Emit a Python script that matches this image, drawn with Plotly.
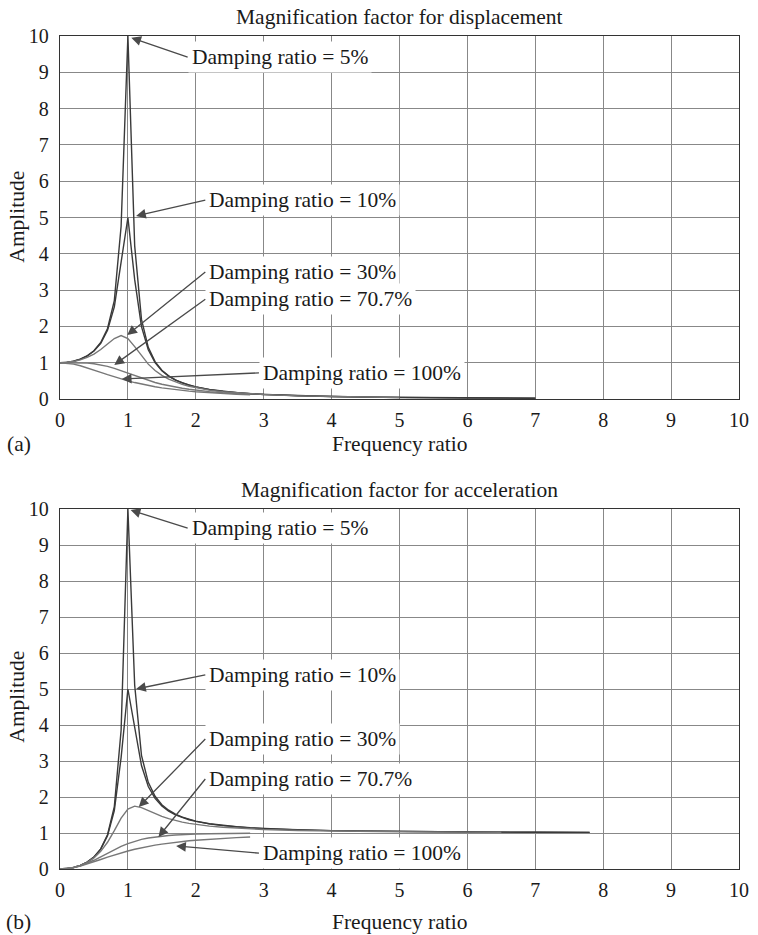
import plotly.graph_objects as go

# ---------------- data ----------------
ratio_labels = ["Damping ratio = 5%", "Damping ratio = 10%", "Damping ratio = 30%",
                "Damping ratio = 70.7%", "Damping ratio = 100%"]

r_long = [0, 0.1, 0.2, 0.3, 0.4, 0.5, 0.6, 0.7, 0.8, 0.9, 1.0, 1.1, 1.2, 1.3, 1.4, 1.5,
          1.6, 1.7, 1.8, 1.9, 2.0, 2.2, 2.4, 2.6, 2.8, 3.0, 3.5, 4.0, 4.5, 5.0, 6.0, 7.0]

# (a) displacement
disp_5 = [1.0, 1.010, 1.041, 1.098, 1.189, 1.330, 1.556, 1.943, 2.712, 4.757, 10.0, 4.218,
          2.193, 1.424, 1.031, 0.794, 0.638, 0.527, 0.445, 0.382, 0.333, 0.260, 0.210,
          0.173, 0.146, 0.125, 0.089, 0.067, 0.052, 0.042, 0.029, 0.021]
disp_10 = [1.0, 1.010, 1.041, 1.097, 1.185, 1.322, 1.536, 1.891, 2.538, 3.821, 5.0, 3.288,
           1.995, 1.356, 1.000, 0.778, 0.628, 0.521, 0.441, 0.379, 0.330, 0.259, 0.209,
           0.173, 0.146, 0.125, 0.089, 0.067, 0.052, 0.042, 0.029, 0.021]
disp_30 = [1.0, 1.008, 1.034, 1.078, 1.145, 1.238, 1.362, 1.514, 1.667, 1.747, 1.667, 1.444,
           1.185, 0.960, 0.784, 0.649, 0.546, 0.466, 0.402, 0.351, 0.310, 0.246, 0.201,
           0.168, 0.142, 0.122, 0.087, 0.066, 0.051, 0.041]
disp_707 = [1.0, 1.000, 0.999, 0.996, 0.987, 0.970, 0.941, 0.898, 0.842, 0.777, 0.707, 0.637,
            0.570, 0.509, 0.455, 0.406, 0.364, 0.327, 0.295, 0.267, 0.243, 0.202, 0.171,
            0.146, 0.127]
disp_100 = [1.0, 0.990, 0.962, 0.917, 0.862, 0.800, 0.735, 0.671, 0.610, 0.553, 0.500, 0.453,
            0.410, 0.372, 0.338, 0.308, 0.281, 0.257, 0.236, 0.217, 0.200, 0.171, 0.148,
            0.129, 0.113]

# (b) acceleration
r_acc_low = [0, 0.1, 0.2, 0.3, 0.4, 0.5, 0.6, 0.7, 0.8, 0.9, 1.0, 1.1, 1.2, 1.3, 1.4, 1.5,
             1.6, 1.7, 1.8, 1.9, 2.0, 2.2, 2.4, 2.6, 2.8, 3.0, 3.5, 4.0, 4.5, 5.0, 6.0, 7.0, 7.8]
r_acc_30 = [0, 0.1, 0.2, 0.3, 0.4, 0.5, 0.6, 0.7, 0.8, 0.9, 1.0, 1.1, 1.2, 1.3, 1.4, 1.5,
            1.6, 1.7, 1.8, 1.9, 2.0, 2.2, 2.4, 2.6, 2.8, 3.0, 3.5, 4.0, 4.5, 5.0, 6.0, 6.5]
acc_5 = [0.0, 0.010, 0.042, 0.099, 0.190, 0.333, 0.560, 0.952, 1.735, 3.853, 10.0, 5.104,
         3.157, 2.407, 2.020, 1.787, 1.633, 1.523, 1.442, 1.379, 1.330, 1.258, 1.209,
         1.172, 1.145, 1.124, 1.088, 1.066, 1.052, 1.041, 1.028, 1.021, 1.017]
acc_10 = [0.0, 0.010, 0.042, 0.099, 0.190, 0.330, 0.553, 0.927, 1.625, 3.095, 5.0, 3.979,
          2.873, 2.292, 1.960, 1.750, 1.608, 1.505, 1.428, 1.369, 1.322, 1.252, 1.204,
          1.169, 1.142, 1.122, 1.087, 1.065, 1.051, 1.041, 1.028, 1.020, 1.016]
acc_30 = [0.0, 0.010, 0.041, 0.097, 0.183, 0.310, 0.490, 0.742, 1.067, 1.415, 1.667, 1.747,
          1.707, 1.623, 1.536, 1.461, 1.398, 1.346, 1.303, 1.268, 1.238, 1.192, 1.158,
          1.133, 1.113, 1.098, 1.070, 1.053, 1.042, 1.034, 1.023, 1.020]
acc_707 = [0.0, 0.010, 0.040, 0.090, 0.158, 0.243, 0.339, 0.440, 0.539, 0.629, 0.707, 0.771,
           0.821, 0.861, 0.891, 0.914, 0.931, 0.945, 0.956, 0.964, 0.970, 0.979, 0.985,
           0.989, 0.992]
acc_100 = [0.0, 0.010, 0.039, 0.083, 0.138, 0.200, 0.265, 0.329, 0.390, 0.448, 0.500, 0.548,
           0.590, 0.628, 0.662, 0.692, 0.719, 0.743, 0.764, 0.783, 0.800, 0.829, 0.852,
           0.871, 0.887]

x_ticks = [0, 1, 2, 3, 4, 5, 6, 7, 8, 9, 10]
y_ticks = [0, 1, 2, 3, 4, 5, 6, 7, 8, 9, 10]

# ---------------- figure ----------------
FONT = "Liberation Serif"
DARK = "#3a3a3a"
GREY = "#777777"
W, H = 758, 935
ML, MR, MT, MB = 60, 9, 36, 66
PW, PH = W - ML - MR, H - MT - MB


def px_x(px):
    return (px - ML) / PW


def px_y(py):
    return (H - MB - py) / PH


fig = go.Figure()

top_series = [(r_long, disp_5, DARK), (r_long, disp_10, DARK),
              (r_long[:len(disp_30)], disp_30, GREY),
              (r_long[:len(disp_707)], disp_707, GREY),
              (r_long[:len(disp_100)], disp_100, GREY)]
bot_series = [(r_acc_low, acc_5, DARK), (r_acc_low, acc_10, DARK),
              (r_acc_30, acc_30, GREY),
              (r_acc_low[:len(acc_707)], acc_707, GREY),
              (r_acc_low[:len(acc_100)], acc_100, GREY)]

for name, (xs, ys, c) in zip(ratio_labels, top_series):
    fig.add_trace(go.Scatter(x=xs, y=ys, mode="lines", name=name,
                             line=dict(color=c, width=1.4), xaxis="x", yaxis="y"))
for name, (xs, ys, c) in zip(ratio_labels, bot_series):
    fig.add_trace(go.Scatter(x=xs, y=ys, mode="lines", name=name,
                             line=dict(color=c, width=1.4), xaxis="x2", yaxis="y2"))

axis_common = dict(range=[0, 10], tickvals=x_ticks, ticktext=[str(v) for v in x_ticks],
                   showgrid=True, gridcolor="#888888", gridwidth=1.4,
                   showline=True, linecolor="#333333", linewidth=1.4, mirror=True,
                   zeroline=False, ticks="", fixedrange=True, ticklabeloverflow="allow",
                   tickfont=dict(family=FONT, size=20, color="#1a1a1a"))
xaxis_common = dict(axis_common)
xaxis_common.update(ticklabelstandoff=3)
yaxis_common = dict(axis_common)
yaxis_common.update(tickvals=y_ticks, ticktext=[str(v) for v in y_ticks],
                    ticklabelstandoff=6)

top_lo = px_y(399)
bot_hi = px_y(509)
fig.update_layout(
    width=W, height=H, showlegend=False,
    margin=dict(l=ML, r=MR, t=MT, b=MB),
    paper_bgcolor="white", plot_bgcolor="white",
    xaxis=dict(xaxis_common, domain=[0, 1], anchor="y"),
    yaxis=dict(yaxis_common, domain=[top_lo, 1], anchor="x"),
    xaxis2=dict(xaxis_common, domain=[0, 1], anchor="y2"),
    yaxis2=dict(yaxis_common, domain=[0, bot_hi], anchor="x2"),
)

txt_font = dict(family=FONT, size=21.5, color="#1a1a1a")
title_font = dict(family=FONT, size=21.5, color="#1a1a1a")

# titles and axis labels
labels = [
    ("Magnification factor for displacement", 405, 17, 0),
    ("Frequency ratio", 405, 444, 0),
    ("(a)", 18, 444, 0),
    ("Amplitude", 16, 217, -90),
    ("Magnification factor for acceleration", 405, 490, 0),
    ("Frequency ratio", 405, 922, 0),
    ("(b)", 18, 922, 0),
    ("Amplitude", 16, 697, -90),
]
for t, x, y, ang in labels:
    fig.add_annotation(text=t, x=px_x(x), y=px_y(y), xref="paper", yref="paper",
                       showarrow=False, textangle=ang, font=title_font,
                       xanchor="center", yanchor="middle")

# damping-ratio callouts: (text-left x, text y, head x, head y)
top_callouts = [(1.88, 9.42, 1.05, 9.95), (2.14, 5.48, 1.12, 5.04),
                (2.14, 3.50, 0.99, 1.76), (2.14, 2.75, 0.80, 0.94),
                (2.93, 0.72, 0.91, 0.55)]
bot_callouts = [(1.88, 9.47, 1.04, 9.97), (2.14, 5.39, 1.12, 5.0),
                (2.14, 3.61, 1.16, 1.72), (2.14, 2.50, 1.45, 0.89),
                (2.93, 0.44, 1.71, 0.64)]

for (xr, yr), callouts in ((("x", "y"), top_callouts), (("x2", "y2"), bot_callouts)):
    for label, (tx, ty, hx, hy) in zip(ratio_labels, callouts):
        fig.add_annotation(text=label, x=hx, y=hy, ax=tx, ay=ty,
                           xref=xr, yref=yr, axref=xr, ayref=yr,
                           xanchor="left", yanchor="middle",
                           showarrow=True, arrowhead=2, arrowsize=1.5,
                           arrowwidth=1.3, arrowcolor="#4a4a4a",
                           bgcolor="white", borderpad=3, font=txt_font)

fig.write_html("out.html", config={"displayModeBar": False},
               post_script="document.body.style.margin='0';document.body.style.overflow='hidden';")
